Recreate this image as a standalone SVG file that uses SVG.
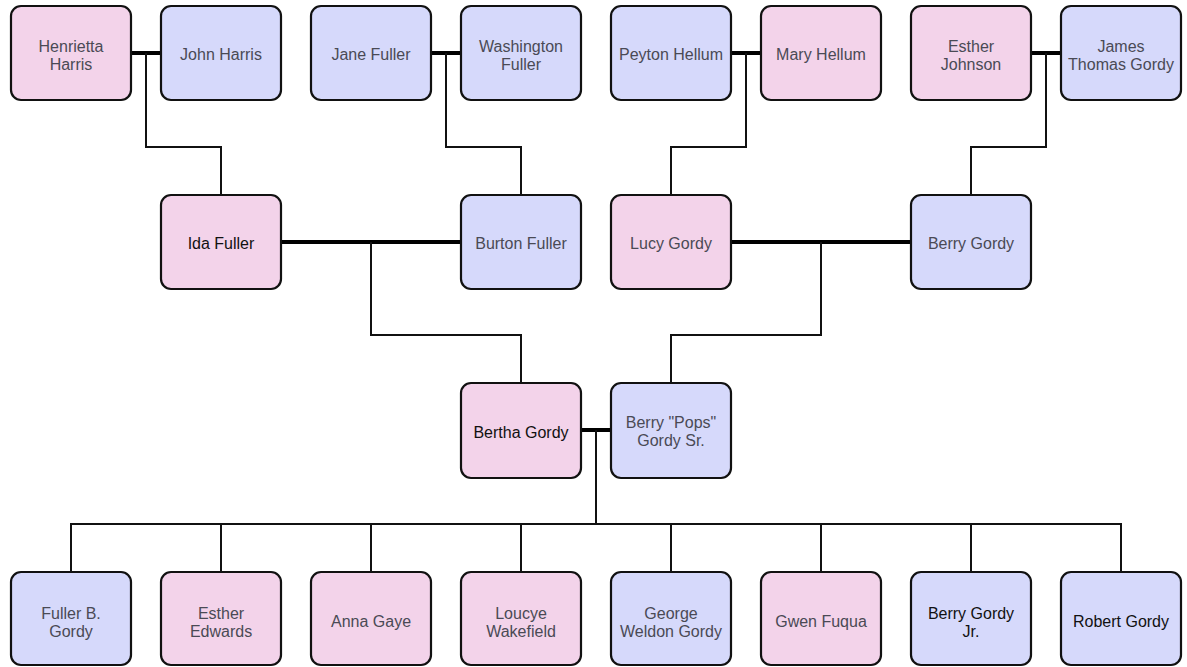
<svg xmlns="http://www.w3.org/2000/svg" width="1187" height="667" viewBox="0 0 1187 667">
<style>
.f{fill:#f3d3ea;stroke:#111;stroke-width:2.2}
.m{fill:#d6d9fb;stroke:#111;stroke-width:2.2}
text{font-family:"Liberation Sans",Arial,sans-serif;font-size:16px;fill:#4a4a55;text-anchor:middle}
.d{fill:#111}
.th{stroke:#000;stroke-width:4;fill:none}
.tn{stroke:#111;stroke-width:2;fill:none}
</style>
<rect width="1187" height="667" fill="#fff"/>
<g id="connectors">
<path class="th" d="M131 53H161M431 53H461M731 53H761M1031 53H1061M281 242H461M731 242H911M581 430H611"/>
<path class="tn" d="M146 53V147H221V195M446 53V147H521V195M746 53V147H671V195M1046 53V147H971V195M371 242V335H521V383M821 242V335H671V383M596 430V524M71 572V524H1121V572M221 524V572M371 524V572M521 524V572M671 524V572M821 524V572M971 524V572"/>
</g>
<g id="henrietta-harris"><rect class="f" x="11" y="6" width="120" height="94" rx="10"/><text x="71" y="52">Henrietta</text><text x="71" y="70">Harris</text></g>
<g id="john-harris"><rect class="m" x="161" y="6" width="120" height="94" rx="10"/><text x="221" y="60">John Harris</text></g>
<g id="jane-fuller"><rect class="m" x="311" y="6" width="120" height="94" rx="10"/><text x="371" y="60">Jane Fuller</text></g>
<g id="washington-fuller"><rect class="m" x="461" y="6" width="120" height="94" rx="10"/><text x="521" y="52">Washington</text><text x="521" y="70">Fuller</text></g>
<g id="peyton-hellum"><rect class="m" x="611" y="6" width="120" height="94" rx="10"/><text x="671" y="60">Peyton Hellum</text></g>
<g id="mary-hellum"><rect class="f" x="761" y="6" width="120" height="94" rx="10"/><text x="821" y="60">Mary Hellum</text></g>
<g id="esther-johnson"><rect class="f" x="911" y="6" width="120" height="94" rx="10"/><text x="971" y="52">Esther</text><text x="971" y="70">Johnson</text></g>
<g id="james-thomas-gordy"><rect class="m" x="1061" y="6" width="120" height="94" rx="10"/><text x="1121" y="52">James</text><text x="1121" y="70">Thomas Gordy</text></g>
<g id="ida-fuller"><rect class="f" x="161" y="195" width="120" height="94" rx="10"/><text class="d" x="221" y="249">Ida Fuller</text></g>
<g id="burton-fuller"><rect class="m" x="461" y="195" width="120" height="94" rx="10"/><text x="521" y="249">Burton Fuller</text></g>
<g id="lucy-gordy"><rect class="f" x="611" y="195" width="120" height="94" rx="10"/><text x="671" y="249">Lucy Gordy</text></g>
<g id="berry-gordy"><rect class="m" x="911" y="195" width="120" height="94" rx="10"/><text x="971" y="249">Berry Gordy</text></g>
<g id="bertha-gordy"><rect class="f" x="461" y="383" width="120" height="95" rx="10"/><text class="d" x="521" y="438">Bertha Gordy</text></g>
<g id="berry-pops-gordy-sr"><rect class="m" x="611" y="383" width="120" height="95" rx="10"/><text x="671" y="428">Berry "Pops"</text><text x="671" y="446">Gordy Sr.</text></g>
<g id="fuller-b-gordy"><rect class="m" x="11" y="572" width="120" height="93" rx="10"/><text x="71" y="619">Fuller B.</text><text x="71" y="637">Gordy</text></g>
<g id="esther-edwards"><rect class="f" x="161" y="572" width="120" height="93" rx="10"/><text x="221" y="619">Esther</text><text x="221" y="637">Edwards</text></g>
<g id="anna-gaye"><rect class="f" x="311" y="572" width="120" height="93" rx="10"/><text x="371" y="627">Anna Gaye</text></g>
<g id="loucye-wakefield"><rect class="f" x="461" y="572" width="120" height="93" rx="10"/><text x="521" y="619">Loucye</text><text x="521" y="637">Wakefield</text></g>
<g id="george-weldon-gordy"><rect class="m" x="611" y="572" width="120" height="93" rx="10"/><text x="671" y="619">George</text><text x="671" y="637">Weldon Gordy</text></g>
<g id="gwen-fuqua"><rect class="f" x="761" y="572" width="120" height="93" rx="10"/><text x="821" y="627">Gwen Fuqua</text></g>
<g id="berry-gordy-jr"><rect class="m" x="911" y="572" width="120" height="93" rx="10"/><text class="d" x="971" y="619">Berry Gordy</text><text class="d" x="971" y="637">Jr.</text></g>
<g id="robert-gordy"><rect class="m" x="1061" y="572" width="120" height="93" rx="10"/><text class="d" x="1121" y="627">Robert Gordy</text></g>
</svg>
